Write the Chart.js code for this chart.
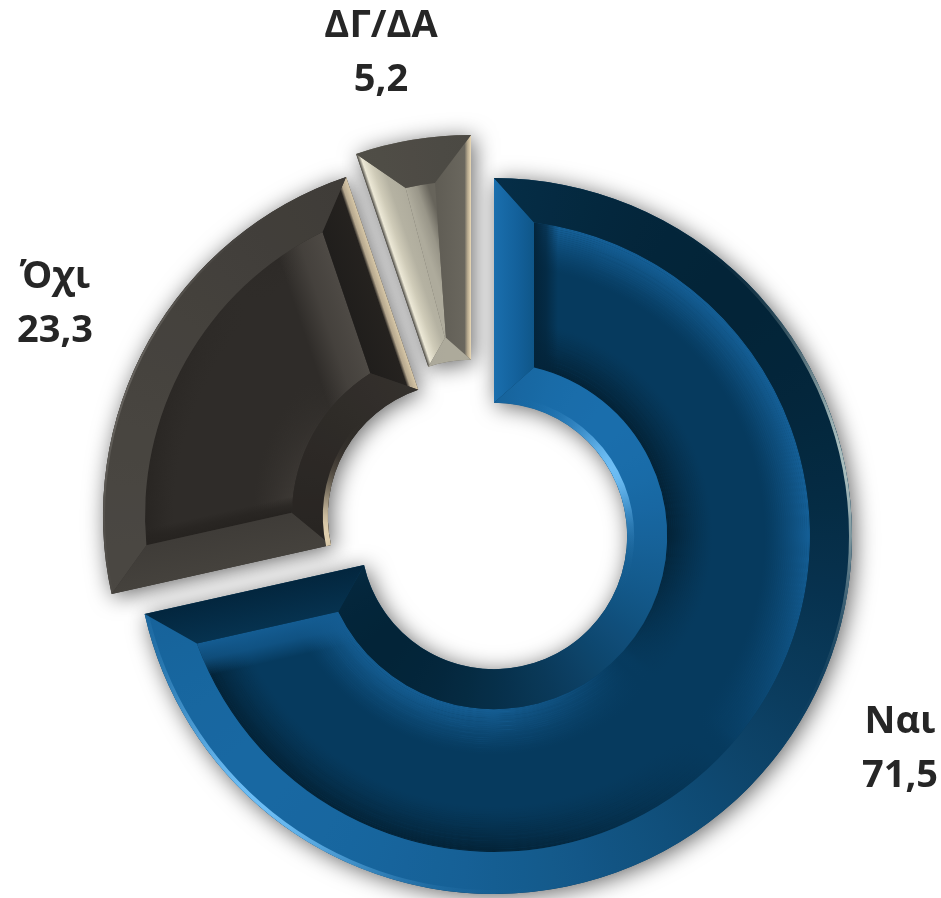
<!DOCTYPE html>
<html>
<head>
<meta charset="utf-8">
<title>Ναι / Όχι / ΔΓ/ΔΑ</title>
<script src="https://cdn.jsdelivr.net/npm/chart.js@4"></script>
<style>
  html, body { margin: 0; padding: 0; background: #fff; }
  #wrap { position: relative; width: 941px; height: 898px; }
</style>
</head>
<body>
<div id="wrap"><canvas id="chart" width="941" height="898"></canvas></div>
<script>
const categories = ['Ναι', 'Όχι', 'ΔΓ/ΔΑ'];
const values = [71.5, 23.3, 5.2];
const valueLabels = ['71,5', '23,3', '5,2'];

// how far each slice is pulled out of the ring
const pullOut = [[0, 0], [-33, -20], [-23, -43]];
const labelAnchors = [[900, 733], [55, 288], [381, 37]];
const labelLineGap = 54;

const baseColors = ['#063a5e', '#2f2c29', '#67645b'];

const deg = Math.PI / 180;
const bevels = [
  {
    outer: 42, inner: 40, side: 40,
    outerTone: [[3, 36, 56], [24, 104, 162]],
    innerTone: [[3, 36, 56], [26, 110, 172]],
    startStops: [[0, '#1a6fae'], [0.6, '#13609a'], [1, '#0f5688']],
    endStops: [[0, '#03263e'], [1, '#06324f']],
    softOuter: { size: 46, lit: [21, 96, 152], dim: [3, 34, 54] },
    softInner: { size: 46, lit: [21, 94, 148], dim: [3, 34, 54] },
    softStart: { size: 24, color: [3, 36, 58] },
    softEnd: { size: 34, color: [20, 92, 146] },
    rims: [
      { at: 'outer', angle: 132, color: [110, 190, 245], width: 4 },
      { at: 'outer', angle: -12, color: [170, 190, 190], width: 3 },
      { at: 'inner', angle: -30, color: [110, 190, 245], width: 7 }
    ]
  },
  {
    outer: 42, inner: 36, side: 40,
    outerTone: [[58, 55, 51], [76, 73, 68]],
    innerTone: [[38, 35, 32], [58, 54, 50]],
    startStops: [[0, '#45423d'], [1, '#3f3c38']],
    endStops: [[0, '#d8c8a8'], [0.16, '#b5a78e'], [0.24, '#25221f'], [1, '#201e1c']],
    softOuter: { size: 30, lit: [40, 37, 34], dim: [40, 37, 34] },
    softInner: { size: 40, lit: [62, 58, 54], dim: [38, 35, 32] },
    softStart: { size: 16, color: [38, 35, 32] },
    softEnd: { size: 50, color: [78, 74, 69] },
    rims: [
      { at: 'inner', angle: 172, color: [225, 208, 175], width: 5 },
      { at: 'outer', angle: 200, color: [100, 97, 92], width: 2 }
    ]
  },
  {
    outer: 46, inner: 24, side: 36,
    outerTone: [[70, 68, 62], [106, 103, 94]],
    innerTone: [[160, 157, 144], [176, 173, 158]],
    startStops: [[0, '#4b4943'], [0.1, '#ece8d6'], [0.32, '#cfcbb8'], [0.6, '#b5b2a2'], [1, '#aeab9c']],
    endStops: [[0, '#ead9b6'], [0.1, '#b3a68c'], [0.18, '#6a675e'], [1, '#5f5c54']],
    softOuter: { size: 0, lit: [0, 0, 0], dim: [0, 0, 0] },
    softInner: { size: 0, lit: [0, 0, 0], dim: [0, 0, 0] },
    softStart: { size: 22, color: [174, 171, 156] },
    softEnd: { size: 0, color: [0, 0, 0] },
    rims: []
  }
];

const LIGHT_ANGLE = 135 * deg;  // light falls from the lower left

function rgba(c, a) {
  return `rgba(${c[0]},${c[1]},${c[2]},${a === undefined ? 1 : a})`;
}

function mix(a, b, t) {
  return [0, 1, 2].map((i) => Math.round(a[i] + (b[i] - a[i]) * t));
}

function conicFill(ctx, arc, fn) {
  const g = ctx.createConicGradient(0, arc.x, arc.y);
  for (let i = 0; i <= 72; i++) {
    g.addColorStop(i / 72, fn(i / 72 * Math.PI * 2));
  }
  return g;
}

function paintBevel(ctx, arc, style) {
  const a0 = arc.startAngle, a1 = arc.endAngle, R = arc.outerRadius, r = arc.innerRadius;
  const sweep = a1 - a0;
  const ro = R - style.outer, ri = r + style.inner;
  const mitre = (rad) => Math.min(Math.asin(style.side / rad), sweep * 0.49);
  const a0o = a0 + mitre(ro), a1o = a1 - mitre(ro), a0i = a0 + mitre(ri), a1i = a1 - mitre(ri);
  const pt = (rad, a) => [arc.x + rad * Math.cos(a), arc.y + rad * Math.sin(a)];

  const facePath = () => {
    ctx.beginPath();
    ctx.arc(arc.x, arc.y, ro, a0o, a1o);
    ctx.lineTo(...pt(ri, a1i));
    ctx.arc(arc.x, arc.y, ri, a1i, a0i, true);
    ctx.closePath();
  };

  // soft steps inside the face
  ctx.save();
  facePath();
  ctx.clip();
  const ring = (soft, from, dir, lightAngle) => {
    if (!soft.size) return;
    const g = conicFill(ctx, arc, (phi) => {
      const l = Math.cos(phi - lightAngle);
      return l > 0 ? rgba(soft.lit, Math.min(1, l * 1.4)) : rgba(soft.dim, Math.min(1, -l * 1.4));
    });
    ctx.strokeStyle = g;
    ctx.lineWidth = 2.2;
    for (let d = 0; d < soft.size; d += 2) {
      ctx.globalAlpha = Math.pow(1 - d / soft.size, 1.3);
      ctx.beginPath();
      ctx.arc(arc.x, arc.y, from + dir * d, a0, a1);
      ctx.stroke();
    }
    ctx.globalAlpha = 1;
  };
  ring(style.softOuter, ro, -1, LIGHT_ANGLE + Math.PI);
  ring(style.softInner, ri, 1, LIGHT_ANGLE);

  // straight soft strips only reach a little way along the slice
  const sideSoft = (soft, angle, sign) => {
    if (!soft.size) return;
    const nx = -Math.sin(angle) * sign, ny = Math.cos(angle) * sign;
    const x0 = arc.x + nx * style.side, y0 = arc.y + ny * style.side;
    const g = ctx.createLinearGradient(x0, y0, x0 + nx * soft.size, y0 + ny * soft.size);
    g.addColorStop(0, rgba(soft.color, 1));
    g.addColorStop(0.5, rgba(soft.color, 0.7));
    g.addColorStop(1, rgba(soft.color, 0));
    ctx.fillStyle = g;
    ctx.beginPath();
    ctx.moveTo(arc.x, arc.y);
    ctx.arc(arc.x, arc.y, R, angle, angle + sign * Math.min(sweep, 60 * deg), sign < 0);
    ctx.closePath();
    ctx.fill();
  };
  sideSoft(style.softStart, a0, 1);
  sideSoft(style.softEnd, a1, -1);
  ctx.restore();

  // the two straight sides
  const side = (angle, sign, stops, rimIn, rimOut) => {
    const nx = -Math.sin(angle) * sign, ny = Math.cos(angle) * sign;
    const g = ctx.createLinearGradient(arc.x, arc.y, arc.x + nx * style.side, arc.y + ny * style.side);
    stops.forEach((s) => g.addColorStop(s[0], s[1]));
    ctx.fillStyle = g;
    ctx.beginPath();
    ctx.moveTo(...pt(R, angle));
    ctx.lineTo(...pt(r, angle));
    ctx.lineTo(...pt(ri, rimIn));
    ctx.lineTo(...pt(ro, rimOut));
    ctx.closePath();
    ctx.fill();
  };
  side(a0, 1, style.startStops, a0i, a0o);
  side(a1, -1, style.endStops, a1i, a1o);

  // outer band brightens towards the light, inner band away from it
  ctx.fillStyle = conicFill(ctx, arc, (phi) =>
    rgba(mix(style.outerTone[0], style.outerTone[1], (Math.cos(phi - LIGHT_ANGLE) + 1) / 2)));
  ctx.beginPath();
  ctx.arc(arc.x, arc.y, R, a0, a1);
  ctx.lineTo(...pt(ro, a1o));
  ctx.arc(arc.x, arc.y, ro, a1o, a0o, true);
  ctx.closePath();
  ctx.fill();

  ctx.fillStyle = conicFill(ctx, arc, (phi) =>
    rgba(mix(style.innerTone[0], style.innerTone[1], (1 - Math.cos(phi - LIGHT_ANGLE)) / 2)));
  ctx.beginPath();
  ctx.arc(arc.x, arc.y, r, a0, a1);
  ctx.lineTo(...pt(ri, a1i));
  ctx.arc(arc.x, arc.y, ri, a1i, a0i, true);
  ctx.closePath();
  ctx.fill();

  // glints along the curved edges
  style.rims.forEach((rim) => {
    const target = rim.angle * deg;
    ctx.strokeStyle = conicFill(ctx, arc, (phi) =>
      rgba(rim.color, Math.pow(Math.max(0, Math.cos(phi - target)), 14)));
    ctx.lineWidth = rim.width;
    ctx.beginPath();
    ctx.arc(arc.x, arc.y, rim.at === 'outer' ? R - rim.width / 2 : r + rim.width / 2, a0, a1);
    ctx.stroke();
  });
}

const bevelPlugin = {
  id: 'bevel',
  afterDatasetUpdate(chart) {
    chart.getDatasetMeta(0).data.forEach((arc, i) => {
      arc.x += pullOut[i][0];
      arc.y += pullOut[i][1];
    });
  },
  beforeDatasetDraw(chart) {
    const ctx = chart.ctx;
    ctx.save();
    ctx.shadowColor = 'rgba(0,0,0,0.6)';
    ctx.shadowBlur = 22;
    ctx.shadowOffsetX = 3;
    ctx.shadowOffsetY = 3;
  },
  afterDatasetDraw(chart) {
    const ctx = chart.ctx;
    ctx.restore();
    chart.getDatasetMeta(0).data.forEach((arc, i) => paintBevel(ctx, arc, bevels[i]));
  }
};

const labelPlugin = {
  id: 'sliceLabels',
  afterDraw(chart) {
    const ctx = chart.ctx;
    ctx.save();
    ctx.font = 'bold 38px "Open Sans"';
    ctx.fillStyle = '#262626';
    ctx.textAlign = 'center';
    categories.forEach((name, i) => {
      const [x, y] = labelAnchors[i];
      ctx.fillText(name, x, y);
      ctx.fillText(valueLabels[i], x, y + labelLineGap);
    });
    ctx.restore();
  }
};

new Chart(document.getElementById('chart').getContext('2d'), {
  type: 'doughnut',
  data: {
    labels: categories,
    datasets: [{
      data: values,
      backgroundColor: baseColors,
      borderWidth: 0
    }]
  },
  options: {
    responsive: false,
    animation: false,
    cutout: '37.2%',
    layout: { padding: { left: 136, right: 89, top: 178, bottom: 4 } },
    plugins: { legend: { display: false }, tooltip: { enabled: false } }
  },
  plugins: [bevelPlugin, labelPlugin]
});
</script>
</body>
</html>
